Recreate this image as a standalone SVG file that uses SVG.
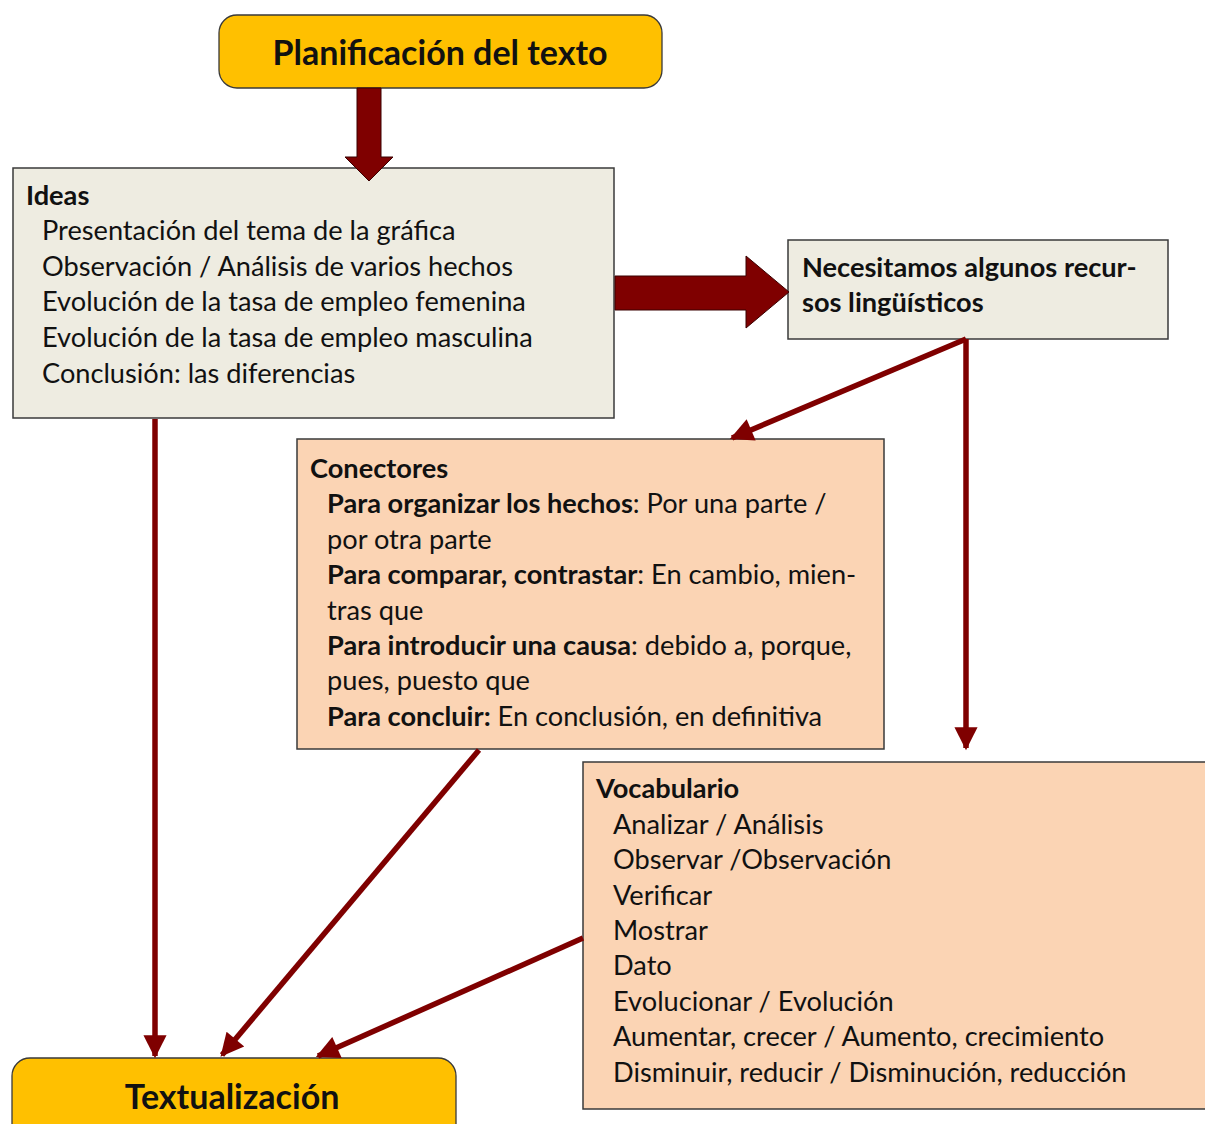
<svg xmlns="http://www.w3.org/2000/svg" width="1205" height="1124" viewBox="0 0 1205 1124">
<defs>
<style>
text{font-family:Lato,"Open Sans","Liberation Sans",sans-serif;fill:#111;}
.t{font-size:27.2px;}
.b{font-weight:bold;}
.title{font-size:34px;font-weight:bold;text-anchor:middle;}
.gray{fill:#EEECE1;stroke:#3a3a3a;stroke-width:1.5;}
.peach{fill:#FBD4B4;stroke:#3a3a3a;stroke-width:1.5;}
.gold{fill:#FFC000;stroke:#3a3a3a;stroke-width:1.3;}
.conn{stroke:#7F0000;stroke-width:5.5;fill:none;marker-end:url(#ah);}
.block{fill:#7F0000;stroke:#3a0000;stroke-width:1;}
</style>
<marker id="ah" viewBox="0 0 10 10" refX="9" refY="5" markerWidth="4.6" markerHeight="4.2" orient="auto" markerUnits="strokeWidth">
<path d="M0,0 L10,5 L0,10 z" fill="#7F0000"/>
</marker>
</defs>
<rect width="1205" height="1124" fill="#fff"/>

<g id="planificacion">
<rect class="gold" x="219" y="15" width="443" height="73" rx="18"/>
<text class="title" x="440" y="65">Planificación del texto</text>
</g>

<g id="ideas">
<rect class="gray" x="13" y="168" width="601" height="250"/>
<text class="t b" x="26" y="205">Ideas</text>
<text class="t" x="42" y="240">Presentación del tema de la gráfica</text>
<text class="t" x="42" y="276">Observación / Análisis de varios hechos</text>
<text class="t" x="42" y="311">Evolución de la tasa de empleo femenina</text>
<text class="t" x="42" y="347">Evolución de la tasa de empleo masculina</text>
<text class="t" x="42" y="383">Conclusión: las diferencias</text>
</g>

<g id="recursos">
<rect class="gray" x="788" y="240" width="380" height="99"/>
<text class="t b" x="802" y="277">Necesitamos algunos recur-</text>
<text class="t b" x="802" y="312">sos lingüísticos</text>
</g>

<g id="conectores">
<rect class="peach" x="297" y="439" width="587" height="310"/>
<text class="t b" x="310" y="478">Conectores</text>
<text class="t" x="327" y="513"><tspan class="b">Para organizar los hechos</tspan>: Por una parte /</text>
<text class="t" x="327" y="549">por otra parte</text>
<text class="t" x="327" y="584"><tspan class="b">Para comparar, contrastar</tspan>: En cambio, mien-</text>
<text class="t" x="327" y="620">tras que</text>
<text class="t" x="327" y="655"><tspan class="b">Para introducir una causa</tspan>: debido a, porque,</text>
<text class="t" x="327" y="690">pues, puesto que</text>
<text class="t" x="327" y="726"><tspan class="b">Para concluir:</tspan> En conclusión, en definitiva</text>
</g>

<g id="vocabulario">
<rect class="peach" x="583" y="762" width="625" height="347"/>
<text class="t b" x="596" y="798">Vocabulario</text>
<text class="t" x="613" y="834">Analizar / Análisis</text>
<text class="t" x="613" y="869">Observar /Observación</text>
<text class="t" x="613" y="905">Verificar</text>
<text class="t" x="613" y="940">Mostrar</text>
<text class="t" x="613" y="975">Dato</text>
<text class="t" x="613" y="1011">Evolucionar / Evolución</text>
<text class="t" x="613" y="1046">Aumentar, crecer / Aumento, crecimiento</text>
<text class="t" x="613" y="1082">Disminuir, reducir / Disminución, reducción</text>
</g>

<g id="textualizacion">
<rect class="gold" x="12" y="1058" width="444" height="90" rx="18"/>
<text class="title" x="232" y="1109">Textualización</text>
</g>

<g id="connectors">
<path class="block" d="M357,88 L381,88 L381,157 L393,157 L369,181 L345,157 L357,157 Z"/>
<path class="block" d="M615,276 L746,276 L746,256 L789,292 L746,328 L746,310 L615,310 Z"/>
<line class="conn" x1="966" y1="339" x2="732" y2="438"/>
<line class="conn" x1="966" y1="339" x2="966" y2="748"/>
<line class="conn" x1="155" y1="419" x2="155" y2="1056"/>
<line class="conn" x1="479" y1="750" x2="222" y2="1055"/>
<line class="conn" x1="583" y1="938" x2="318" y2="1056"/>
</g>
</svg>
